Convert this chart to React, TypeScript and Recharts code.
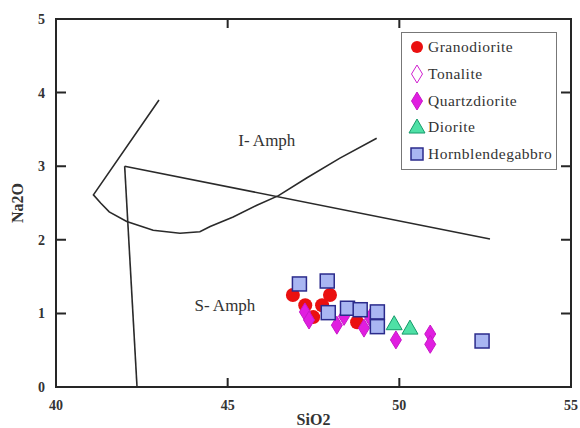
import React from "react";
import {
  ScatterChart, Scatter, XAxis, YAxis, ReferenceDot,
} from "recharts";

interface Pt { x: number; y: number }

// sample points
const granodiorite: Pt[] = [
  { x: 46.9, y: 1.25 }, { x: 47.98, y: 1.25 }, { x: 47.49, y: 0.95 },
  { x: 47.75, y: 1.11 }, { x: 47.26, y: 1.11 }, { x: 48.77, y: 0.88 },
];
const tonalite: Pt[] = [];
const quartzdiorite: Pt[] = [
  { x: 47.25, y: 1.02 }, { x: 47.37, y: 0.91 }, { x: 48.18, y: 0.84 },
  { x: 48.39, y: 0.96 }, { x: 48.97, y: 0.8 }, { x: 49.15, y: 0.94 },
  { x: 49.9, y: 0.64 }, { x: 50.9, y: 0.72 }, { x: 50.9, y: 0.58 },
];
const diorite: Pt[] = [{ x: 49.85, y: 0.86 }, { x: 50.31, y: 0.8 }];
const hornblendegabbro: Pt[] = [
  { x: 47.09, y: 1.4 }, { x: 47.9, y: 1.44 }, { x: 47.93, y: 1.01 },
  { x: 48.49, y: 1.07 }, { x: 48.86, y: 1.05 }, { x: 49.36, y: 1.02 },
  { x: 49.36, y: 0.82 }, { x: 52.41, y: 0.625 },
];

// field boundaries
const curveLine: Pt[] = [
  { x: 43.0, y: 3.9 }, { x: 41.09, y: 2.61 }, { x: 41.3, y: 2.5 }, { x: 41.55, y: 2.38 },
  { x: 42.06, y: 2.25 }, { x: 42.83, y: 2.13 }, { x: 43.61, y: 2.09 },
  { x: 44.19, y: 2.11 }, { x: 44.49, y: 2.18 }, { x: 45.16, y: 2.31 },
  { x: 45.85, y: 2.47 }, { x: 46.48, y: 2.6 }, { x: 47.3, y: 2.84 },
  { x: 48.27, y: 3.11 }, { x: 49.34, y: 3.38 },
];
const sloped: Pt[] = [{ x: 42.0, y: 3.0 }, { x: 52.64, y: 2.01 }];
const vertical: Pt[] = [{ x: 42.0, y: 3.0 }, { x: 42.36, y: 0 }];

const xTicks = [40, 45, 50, 55];
const yTicks = [0, 1, 2, 3, 4, 5];
const xInner = [45, 50];
const yInner = [1, 2, 3, 4];

// chart layout
const W = 580, H = 428;
const margin = { top: 19, right: 9, bottom: 0, left: 0 };
const yAxisW = 56, xAxisH = 41;
const plot = {
  left: margin.left + yAxisW,
  right: W - margin.right,
  top: margin.top,
  bottom: H - margin.bottom - xAxisH,
};
const px = (v: number) => plot.left + ((v - 40) / 15) * (plot.right - plot.left);
const py = (v: number) => plot.bottom - (v / 5) * (plot.bottom - plot.top);

// frame with inward ticks on all four sides
const frameD = [
  `M${plot.left},${plot.top} H${plot.right} V${plot.bottom} H${plot.left} Z`,
  ...xInner.map((v) => `M${px(v)},${plot.bottom} v-9 M${px(v)},${plot.top} v9`),
  ...yInner.map((v) => `M${plot.left},${py(v)} h10 M${plot.right},${py(v)} h-10`),
].join(" ");

const serifFace = "'Liberation Serif', 'Times New Roman', serif";

const CircleMark = ({ cx, cy }: any) => <circle cx={cx} cy={cy} r={7} fill="#ea1010" />;
const DiamondMark = ({ cx, cy, hollow }: any) => (
  <polygon
    points={`${cx},${cy - 9} ${cx + 5.5},${cy} ${cx},${cy + 9} ${cx - 5.5},${cy}`}
    fill={hollow ? "#fff" : "#e01ee0"} stroke={hollow ? "#d020d0" : "#c818c8"} strokeWidth={1}
  />
);
const SquareMark = ({ cx, cy }: any) => (
  <rect x={cx - 7} y={cy - 7} width={14} height={14} fill="#a9b6f2" stroke="#2b2b8c" strokeWidth={1.5} />
);
const TriangleMark = ({ cx, cy }: any) => (
  <polygon points={`${cx},${cy - 8} ${cx + 8},${cy + 6} ${cx - 8},${cy + 6}`} fill="#4fe0a6" stroke="#159a6a" strokeWidth={1} />
);
const NoMark = () => <g />;

const series = [
  { name: "Granodiorite", data: granodiorite, Mark: CircleMark, hollow: false },
  { name: "Tonalite", data: tonalite, Mark: DiamondMark, hollow: true },
  { name: "Quartzdiorite", data: quartzdiorite, Mark: DiamondMark, hollow: false },
  { name: "Diorite", data: diorite, Mark: TriangleMark, hollow: false },
  { name: "Hornblendegabbro", data: hornblendegabbro, Mark: SquareMark, hollow: false },
];

function LegendBox() {
  return (
    <div style={{
      position: "absolute", left: 401, top: 32,
      width: 156, height: 138, boxSizing: "border-box", border: "1px solid #777",
      background: "#fff", padding: "1px 0 0 6px", fontFamily: serifFace, fontSize: 15.5,
      letterSpacing: 0.5, color: "#333", whiteSpace: "nowrap",
    }}>
      {series.map(({ name, Mark, hollow }) => (
        <div key={name} style={{ display: "flex", alignItems: "center", height: 26.7 }}>
          <svg width={20} height={20}>
            {name === "Granodiorite"
              ? <circle cx={9} cy={10} r={6} fill="#ea1010" />
              : name === "Hornblendegabbro"
                ? <rect x={3} y={4} width={12} height={12} fill="#a9b6f2" stroke="#2b2b8c" strokeWidth={1.5} />
                : <Mark cx={9} cy={10} hollow={hollow} />}
          </svg>
          <span>{name}</span>
        </div>
      ))}
    </div>
  );
}

const tickText = { fontFamily: serifFace, fontWeight: "bold" as const, fontSize: 14, fill: "#333" };

export default function App() {
  return (
    <div style={{ position: "absolute", left: 0, top: 0, width: W, height: H, background: "#fff", overflow: "hidden" }}>
      <ScatterChart width={W} height={H} margin={margin}>
        <XAxis
          dataKey="x" type="number" domain={[40, 55]} ticks={xTicks}
          height={xAxisH} tickSize={0} tickMargin={13} tickLine={false}
          axisLine={{ stroke: "#262626", strokeWidth: 2 }} tick={tickText}
          label={({ viewBox }: any) => (
            <text x={viewBox.x + viewBox.width / 2} y={viewBox.y + viewBox.height - 3} textAnchor="middle"
              fontFamily={serifFace} fontWeight="bold" fontSize={16} fill="#333">SiO2</text>
          )}
        />
        <YAxis
          dataKey="y" type="number" domain={[0, 5]} ticks={yTicks}
          width={yAxisW} tickSize={0} tickMargin={11} tickLine={false}
          axisLine={{ stroke: "#262626", strokeWidth: 2 }} tick={tickText}
          label={({ viewBox }: any) => (
            <text x={18} y={viewBox.y + viewBox.height / 2} textAnchor="middle"
              transform={`rotate(-90, 18, ${viewBox.y + viewBox.height / 2})`} dy={5}
              fontFamily={serifFace} fontWeight="bold" fontSize={16} fill="#333">Na2O</text>
          )}
        />

        <Scatter data={curveLine} line={{ stroke: "#2a2a2a", strokeWidth: 1.6 }}
          shape={<NoMark />} legendType="none" isAnimationActive={false} />
        <Scatter data={sloped} line={{ stroke: "#2a2a2a", strokeWidth: 1.6 }}
          shape={<NoMark />} legendType="none" isAnimationActive={false} />
        <Scatter data={vertical} line={{ stroke: "#2a2a2a", strokeWidth: 1.6 }}
          shape={<NoMark />} legendType="none" isAnimationActive={false} />

        <ReferenceDot x={46.14} y={3.36} r={0} fill="none" stroke="none"
          label={{ value: "I- Amph", position: "center", fontFamily: serifFace, fontSize: 17, fill: "#333" }} />
        <ReferenceDot x={44.92} y={1.11} r={0} fill="none" stroke="none"
          label={{ value: "S- Amph", position: "center", fontFamily: serifFace, fontSize: 17, fill: "#333" }} />

        {series.map(({ name, data, Mark, hollow }) => (
          <Scatter key={name} name={name} data={data}
            shape={(p: any) => <Mark cx={p.cx} cy={p.cy} hollow={hollow} />}
            isAnimationActive={false} />
        ))}
      </ScatterChart>
      <svg width={W} height={H} style={{ position: "absolute", left: 0, top: 0, pointerEvents: "none" }}>
        <path d={frameD} fill="none" stroke="#262626" strokeWidth={2} />
      </svg>
      <LegendBox />
    </div>
  );
}
